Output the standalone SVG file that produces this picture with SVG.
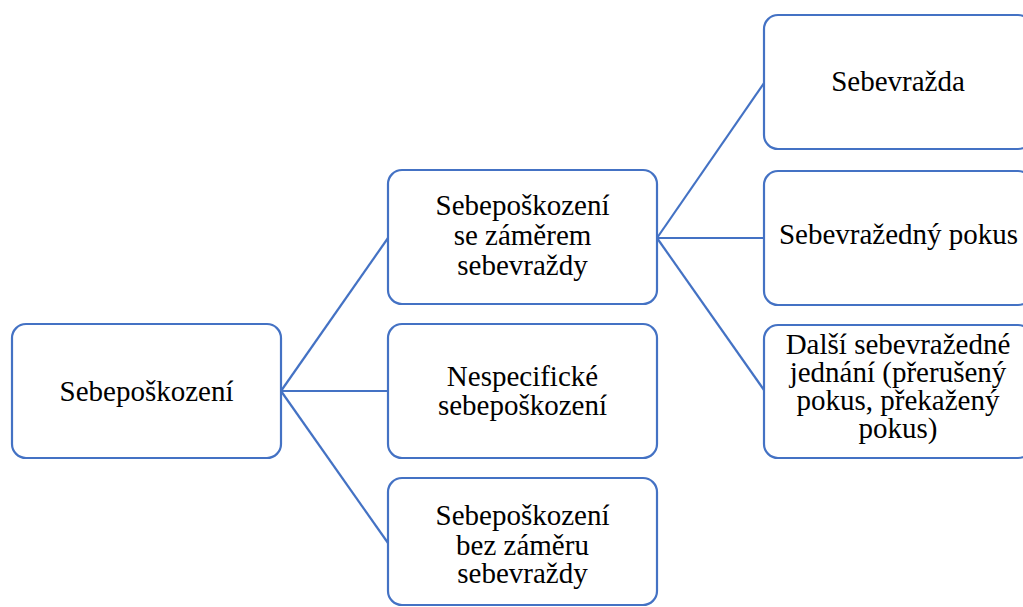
<svg xmlns="http://www.w3.org/2000/svg" width="1023" height="607" viewBox="0 0 1023 607">
  <style>
    .box { fill: #ffffff; stroke: #4472C4; stroke-width: 2.2; }
    .link { fill: none; stroke: #4472C4; stroke-width: 2.2; }
    .label { font-family: "Liberation Serif", "Times New Roman", serif; font-size: 29px; fill: #000000; text-anchor: middle; }
  </style>
  <rect x="0" y="0" width="1023" height="607" fill="#ffffff"/>

  <!-- connectors -->
  <g id="connectors">
    <line class="link" x1="281" y1="391" x2="388" y2="238"/>
    <line class="link" x1="281" y1="391" x2="388" y2="391"/>
    <line class="link" x1="281" y1="391" x2="388" y2="543"/>
    <line class="link" x1="657" y1="238" x2="764" y2="83"/>
    <line class="link" x1="657" y1="238" x2="764" y2="238"/>
    <line class="link" x1="657" y1="238" x2="764" y2="390"/>
  </g>

  <!-- level 0 -->
  <g id="node-root">
    <rect class="box" x="12" y="324" width="269" height="134" rx="14"/>
    <text class="label" x="146.5" y="401">Sebepoškození</text>
  </g>

  <!-- level 1 -->
  <g id="node-intent">
    <rect class="box" x="388" y="170" width="269" height="134" rx="14"/>
    <text class="label" x="522.5" y="215">Sebepoškození</text>
    <text class="label" x="522.5" y="245">se záměrem</text>
    <text class="label" x="522.5" y="275">sebevraždy</text>
  </g>
  <g id="node-nonspecific">
    <rect class="box" x="388" y="324" width="269" height="134" rx="14"/>
    <text class="label" x="522.5" y="386">Nespecifické</text>
    <text class="label" x="522.5" y="415">sebepoškození</text>
  </g>
  <g id="node-nointent">
    <rect class="box" x="388" y="478" width="269" height="127" rx="14"/>
    <text class="label" x="522.5" y="525">Sebepoškození</text>
    <text class="label" x="522.5" y="555">bez záměru</text>
    <text class="label" x="522.5" y="583">sebevraždy</text>
  </g>

  <!-- level 2 -->
  <g id="node-suicide">
    <rect class="box" x="764" y="15" width="268" height="134" rx="14"/>
    <text class="label" x="898" y="91">Sebevražda</text>
  </g>
  <g id="node-attempt">
    <rect class="box" x="764" y="171" width="268" height="134" rx="14"/>
    <text class="label" x="898.5" y="244">Sebevražedný pokus</text>
  </g>
  <g id="node-other">
    <rect class="box" x="764" y="325" width="268" height="133" rx="14"/>
    <text class="label" x="898" y="354">Další sebevražedné</text>
    <text class="label" x="898" y="382">jednání (přerušený</text>
    <text class="label" x="898" y="410">pokus, překažený</text>
    <text class="label" x="898" y="438">pokus)</text>
  </g>
</svg>
